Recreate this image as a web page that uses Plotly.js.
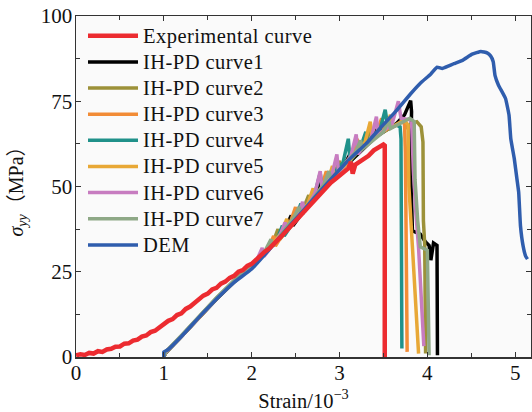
<!DOCTYPE html>
<html>
<head>
<meta charset="utf-8">
<script src="https://cdn.plot.ly/plotly-3.0.1.min.js"></script>
<style>
html,body{margin:0;padding:0;background:#fff;}
#chart{width:532px;height:412px;}
#chart .legend .legendtext{font-size:20.5px !important; letter-spacing:0.45px;}
#chart .legend .scrollbox{clip-path:none !important;}
</style>
</head>
<body>
<div id="chart"></div>
<script>
// ---- Data (strain in 10^-3, stress in MPa) ----
const seriesNames = ["Experimental curve","IH-PD curve1","IH-PD curve2","IH-PD curve3","IH-PD curve4","IH-PD curve5","IH-PD curve6","IH-PD curve7","DEM"];

const expStrain = [0.00,0.05,0.10,0.15,0.20,0.25,0.30,0.35,0.40,0.45,0.50,0.55,0.60,0.65,0.70,0.75,0.80,0.85,0.90,0.95,1.00,1.05,1.10,1.15,1.20,1.25,1.30,1.35,1.40,1.45,1.50,1.55,1.60,1.65,1.70,1.75,1.80,1.85,1.90,1.95,2.00,2.05,2.10,2.15,2.20,2.25,2.30,2.35,2.40,2.45,2.50,2.55,2.60,2.65,2.70,2.75,2.80,2.85,2.90,2.95,3.00,3.05,3.10,3.13,3.15,3.18,3.22,3.28,3.33,3.39,3.45,3.50,3.515,3.515,3.515];
const expStress = [0.5,0.8,0.6,1.2,1.0,1.7,1.5,2.2,2.4,3.0,3.1,3.9,4.0,4.8,5.1,6.0,6.3,7.3,7.7,8.8,9.5,10.6,11.1,12.3,12.8,14.1,14.8,15.9,16.8,18.0,18.6,19.8,20.3,21.5,22.1,23.2,23.8,25.0,25.5,26.7,27.3,28.6,29.5,30.9,31.8,33.3,34.4,35.7,37.1,38.4,39.6,41.1,42.4,43.8,45.4,46.7,48.3,49.8,51.1,52.1,53.3,54.3,55.3,57.2,53.8,56.4,57.0,57.9,59.0,60.6,61.6,62.3,62.0,30.0,0.0];

const c1Strain = [1.0,1.02,1.2,1.4,1.6,1.8,2.0,2.2,2.38,2.45,2.47,2.72,2.8,2.82,3.05,3.13,3.15,3.37,3.45,3.47,3.65,3.74,3.79,3.81,3.82,3.81,3.83,3.92,3.98,4.02,4.04,4.07,4.11,4.115];
const c1Stress = [0,1.2,6,11.6,17,22,26.4,32,37.5,41.5,38.5,47.5,52,49.5,56,60,58,63.5,68,65.5,68.5,71,74.5,75.2,72,55,37,36,33.7,32.7,28.4,33.4,32.7,0.5];

const c2Strain = [1.0,1.02,1.2,1.4,1.6,1.8,2.0,2.24,2.3,2.32,2.58,2.65,2.67,2.93,3.0,3.02,3.28,3.35,3.37,3.6,3.72,3.78,3.82,3.88,3.93,3.95,3.955,3.97,3.98];
const c2Stress = [0,1.4,6.2,11.9,17.3,22.3,26.6,33.5,37.5,34.5,43,47.5,45,53,57.5,55,62,66.5,64,67.5,69,67,68.5,69,67.5,63,40,33,1];

const c3Strain = [1.0,1.02,1.2,1.4,1.6,1.8,2.0,2.19,2.25,2.27,2.44,2.5,2.52,2.79,2.85,2.87,3.14,3.2,3.22,3.42,3.48,3.5,3.65,3.72,3.74,3.75,3.77];
const c3Stress = [0,1.3,6.1,11.8,17.2,22.2,26.5,31.5,35.5,32.5,39.5,44,41,49.5,54.5,51.5,59,64,60.5,65.5,70,66.5,68,69.5,68.5,60,1.5];

const c4Strain = [1.0,1.02,1.2,1.4,1.6,1.8,2.0,2.29,2.35,2.37,2.5,2.56,2.58,2.72,2.78,2.8,3.04,3.1,3.12,3.24,3.3,3.32,3.46,3.52,3.55,3.65,3.69,3.70,3.71];
const c4Stress = [0,1.3,6.1,11.8,17.2,22.2,26.5,34.5,38.5,35.5,40.5,45,42,48,54,50,57,64,57.5,61.5,66,62.5,66.5,72.5,67.5,68,67.5,64,2.5];

const c5Strain = [1.0,1.02,1.2,1.4,1.6,1.8,2.0,2.2,2.34,2.4,2.42,2.64,2.7,2.72,2.86,2.92,2.94,3.13,3.29,3.35,3.37,3.52,3.58,3.6,3.74,3.78,3.79,3.83,3.9];
const c5Stress = [0,1.3,6,11.7,17.1,22.1,26.4,32,36.5,40.5,37.5,45,49.5,46.5,51,56,52.5,58,63,69,64.5,66.5,71,67.5,69.5,68,50,32.3,1];

const c6Strain = [1.0,1.02,1.2,1.4,1.6,1.8,2.0,2.06,2.12,2.14,2.32,2.38,2.4,2.52,2.58,2.6,2.72,2.78,2.8,2.91,2.97,2.99,3.13,3.19,3.21,3.36,3.42,3.44,3.6,3.67,3.7,3.82,3.84,3.87,3.9,3.96];
const c6Stress = [0,1.4,6.1,11.8,17.2,22.3,26.5,28.5,32,29.5,35.5,39.5,37,41,45.5,42.5,48,54.5,49.5,53,59.4,54,59,65.3,59.5,64,70.5,65,68.5,75,70,69.5,55,42,32,3.2];

const c7Strain = [1.0,1.02,1.2,1.4,1.6,1.8,2.0,2.16,2.22,2.24,2.48,2.54,2.56,2.82,2.88,2.9,3.18,3.24,3.26,3.5,3.56,3.58,3.7,3.8,3.85,3.86,3.89,3.92,4.0,4.02];
const c7Stress = [0,1.5,6.3,12,17.4,22.5,26.8,31.5,34.5,32.5,41,44,42,50.5,54.5,52,60,63.5,61,66,69.5,67,68.5,70,69,52,40,32.3,31.3,0.5];

const demStrain = [1.0,1.0,1.05,1.2,1.42,1.6,1.8,2.0,2.2,2.4,2.6,2.8,3.09,3.3,3.47,3.65,3.81,3.92,4.04,4.11,4.17,4.23,4.3,4.4,4.51,4.61,4.68,4.72,4.75,4.77,4.81,4.89,4.93,4.95,4.99,5.02,5.04,5.06,5.09,5.12,5.14];
const demStress = [0,1.5,2.2,6,12.2,17,21.9,25.8,31.5,37.5,43.3,49.2,57.4,62.5,67.3,72.3,77.2,80.3,83,85,84.6,85.2,86,87,88.8,89.6,89.2,88.3,86.6,82.6,79.7,75.8,70.9,64,58.1,52.2,48.3,38.5,32.6,29.5,28.7];

const xTickVals = [0,1,2,3,4,5];
const yTickVals = [0,25,50,75,100];

// ---- Styles ----
const colors = ["#ec2b30","#000000","#9c9139","#f28c36","#20918a","#e8a836","#c77cc0","#8ea886","#2f5dad"];

const ihStrain = [c1Strain,c2Strain,c3Strain,c4Strain,c5Strain,c6Strain,c7Strain];
const ihStress = [c1Stress,c2Stress,c3Stress,c4Stress,c5Stress,c6Stress,c7Stress];

const traces = [];
for (let i = 0; i < 7; i++) {
  traces.push({x: ihStrain[i], y: ihStress[i], mode: 'lines', name: seriesNames[i+1],
    line: {color: colors[i+1], width: 3.5}});
}
traces.push({x: demStrain, y: demStress, mode: 'lines', name: seriesNames[8],
  line: {color: colors[8], width: 3.5, shape: 'spline', smoothing: 0.3}});
traces.push({x: expStrain, y: expStress, mode: 'lines', name: seriesNames[0], legendrank: 1,
  line: {color: colors[0], width: 4.5}});

const fontFam = '"Liberation Serif", "Times New Roman", serif';
const layout = {
  width: 532, height: 412,
  margin: {l: 76, r: 1, t: 16, b: 55},
  paper_bgcolor: '#ffffff',
  plot_bgcolor: '#fafafa',
  font: {family: fontFam, size: 21, color: '#111'},
  showlegend: true,
  legend: {x: 0.0154, y: 0.995, xanchor: 'left', yanchor: 'top', bgcolor: 'rgba(0,0,0,0)',
    font: {family: fontFam, size: 17.8, color: '#111'}, tracegroupgap: 0, itemwidth: 50},
  xaxis: {range: [0, 5.18], tickvals: xTickVals, ticks: 'inside', ticklen: 5, tickcolor: '#333',
    ticklabelstandoff: -4,
    showline: true, linecolor: '#333', linewidth: 1.5, mirror: 'ticks', showgrid: false, zeroline: false,
    minor: {ticks: 'inside', dtick: 0.5, ticklen: 4, tickcolor: '#333'},
    title: {text: 'Strain/10<sup>−3</sup>', font: {family: fontFam, size: 20.5}, standoff: 10}},
  yaxis: {range: [0, 100], tickvals: yTickVals, ticks: 'inside', ticklen: 5, tickcolor: '#333',
    ticklabelstandoff: -2,
    showline: true, linecolor: '#333', linewidth: 1.5, mirror: 'ticks', showgrid: false, zeroline: false,
    minor: {ticks: 'inside', dtick: 12.5, ticklen: 4, tickcolor: '#333'},
    title: {text: "<i>σ</i><sub><i>yy</i></sub><span style=\"font-family:'Noto Sans CJK SC'\">（</span>MPa<span style=\"font-family:'Noto Sans CJK SC'\">）</span>",
      font: {family: fontFam, size: 20}, standoff: 12}}
};
Plotly.newPlot('chart', traces, layout, {staticPlot: true, displayModeBar: false});
</script>
</body>
</html>
